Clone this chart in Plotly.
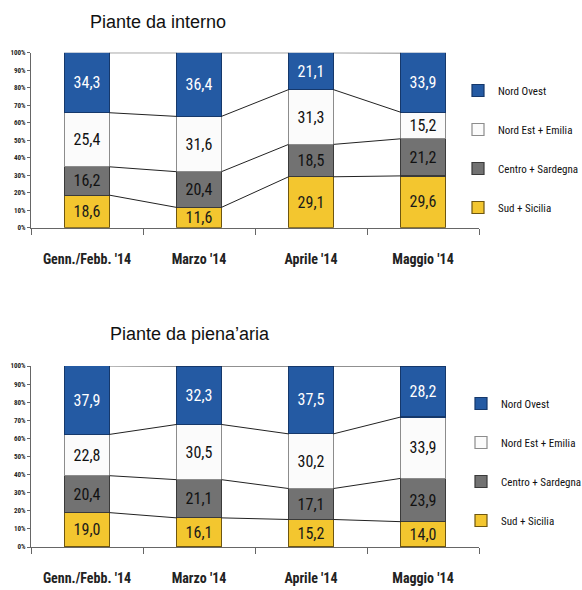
import plotly.graph_objects as go

# ---- data ----
categories = ["Genn./Febb. '14", "Marzo '14", "Aprile '14", "Maggio '14"]
series_names = ["Sud + Sicilia", "Centro + Sardegna", "Nord Est + Emilia", "Nord Ovest"]

# Piante da interno (drawn heights, % of bar)
interno_sud = [18.6, 11.6, 29.1, 29.6]
interno_centro = [16.2, 20.4, 18.5, 21.2]
interno_nordest = [30.9, 31.6, 31.3, 15.2]
interno_nordovest = [34.3, 36.4, 21.1, 33.9]
# labels printed on the bars
interno_sud_lbl = ["18,6", "11,6", "29,1", "29,6"]
interno_centro_lbl = ["16,2", "20,4", "18,5", "21,2"]
interno_nordest_lbl = ["25,4", "31,6", "31,3", "15,2"]
interno_nordovest_lbl = ["34,3", "36,4", "21,1", "33,9"]

# Piante da piena'aria
aria_sud = [19.0, 16.1, 15.2, 14.0]
aria_centro = [20.4, 21.1, 17.1, 23.9]
aria_nordest = [22.8, 30.5, 30.2, 33.9]
aria_nordovest = [37.9, 32.3, 37.5, 28.2]
aria_sud_lbl = ["19,0", "16,1", "15,2", "14,0"]
aria_centro_lbl = ["20,4", "21,1", "17,1", "23,9"]
aria_nordest_lbl = ["22,8", "30,5", "30,2", "33,9"]
aria_nordovest_lbl = ["37,9", "32,3", "37,5", "28,2"]

y_ticks = [0, 10, 20, 30, 40, 50, 60, 70, 80, 90, 100]
y_tick_labels = [f"{v}%" for v in y_ticks]

# ---- style ----
fills = ["#f3c62f", "#727272", "#fbfbfb", "#245aa3"]
edges = ["#6e5610", "#3a3a3a", "#8c8c8c", "#15386b"]
text_colors = ["#1a1a1a", "#111111", "#111111", "#ffffff"]
NARROW = "Roboto Condensed, Liberation Sans Narrow, Roboto, sans-serif"
BAR_W = 0.4

W, H = 582, 590
x_dom = [31 / W, 479 / W]
top_dom = [(H - 227.7) / H, (H - 52.7) / H]
bot_dom = [(H - 547) / H, (H - 366) / H]

fig = go.Figure()
xs = list(range(len(categories)))

panels = [
    ("x", "y", "legend",
     [interno_sud, interno_centro, interno_nordest, interno_nordovest],
     [interno_sud_lbl, interno_centro_lbl, interno_nordest_lbl, interno_nordovest_lbl]),
    ("x2", "y2", "legend2",
     [aria_sud, aria_centro, aria_nordest, aria_nordovest],
     [aria_sud_lbl, aria_centro_lbl, aria_nordest_lbl, aria_nordovest_lbl]),
]

for xa, ya, lg, vals, lbls in panels:
    for i, name in enumerate(series_names):
        fig.add_trace(go.Bar(
            x=xs, y=vals[i], name=name, text=lbls[i], textposition="inside",
            insidetextanchor="middle", textangle=0, constraintext="none",
            textfont=dict(family=NARROW, size=16, color=text_colors[i]),
            marker=dict(color=fills[i], line=dict(color=edges[i], width=1.2)),
            width=BAR_W, xaxis=xa, yaxis=ya, legend=lg,
            legendgroup=lg + name, legendrank=len(series_names) - i,
            hoverinfo="skip",
        ))
    # connector lines between adjacent bars at cumulative levels
    cum = [0.0] * len(categories)
    for i in range(len(series_names)):
        cum = [c + v for c, v in zip(cum, vals[i])]
        for k in range(len(categories) - 1):
            fig.add_trace(go.Scatter(
                x=[k + BAR_W / 2, k + 1 - BAR_W / 2], y=[cum[k], cum[k + 1]],
                mode="lines", line=dict(color="#222222", width=1),
                xaxis=xa, yaxis=ya, showlegend=False, hoverinfo="skip",
            ))

xaxis_common = dict(
    range=[-0.5, len(categories) - 0.5], tickvals=xs, ticktext=categories,
    ticks="", showgrid=False, zeroline=False, showline=True,
    linecolor="#666666", linewidth=1, ticklabelstandoff=18,
    tickfont=dict(family=NARROW, size=14, color="#222222", weight="bold"),
    minor=dict(tickvals=[k - 0.5 for k in range(len(categories) + 1)],
               ticks="outside", ticklen=6, tickcolor="#666666", showgrid=False),
    fixedrange=True,
)
yaxis_common = dict(
    range=[0, 100], tickmode="array", tickvals=y_ticks, ticktext=y_tick_labels,
    ticks="outside", ticklen=3, tickcolor="#666666", showgrid=False,
    zeroline=False, showline=True, linecolor="#666666", linewidth=1,
    tickfont=dict(family=NARROW, size=7, color="#222222", weight="bold"),
    fixedrange=True,
)

legend_common = dict(
    traceorder="grouped", tracegroupgap=20,
    font=dict(family=NARROW, size=11, color="#111111"),
    bgcolor="rgba(0,0,0,0)", itemwidth=30, xanchor="left", yanchor="top",
)

title_font = dict(family="Liberation Sans, Arial, sans-serif", size=18, color="#111111")

fig.update_layout(
    width=W, height=H, margin=dict(l=0, r=0, t=0, b=0, autoexpand=False),
    paper_bgcolor="white", plot_bgcolor="white",
    barmode="stack", bargap=0.6,
    xaxis=dict(domain=x_dom, anchor="y", **xaxis_common),
    yaxis=dict(domain=top_dom, anchor="x", **yaxis_common),
    xaxis2=dict(domain=x_dom, anchor="y2", **xaxis_common),
    yaxis2=dict(domain=bot_dom, anchor="x2", **yaxis_common),
    legend=dict(x=458 / W, y=(H - 76) / H, **legend_common),
    legend2=dict(x=461 / W, y=(H - 389) / H, **legend_common),
    annotations=[
        dict(text="Piante da interno", x=158 / W, y=(H - 22) / H,
             xref="paper", yref="paper", xanchor="center", yanchor="middle",
             showarrow=False, font=title_font),
        dict(text="Piante da piena\u2019aria", x=190 / W, y=(H - 334) / H,
             xref="paper", yref="paper", xanchor="center", yanchor="middle",
             showarrow=False, font=title_font),
    ],
    showlegend=True,
)

fig.write_html("out.html")
